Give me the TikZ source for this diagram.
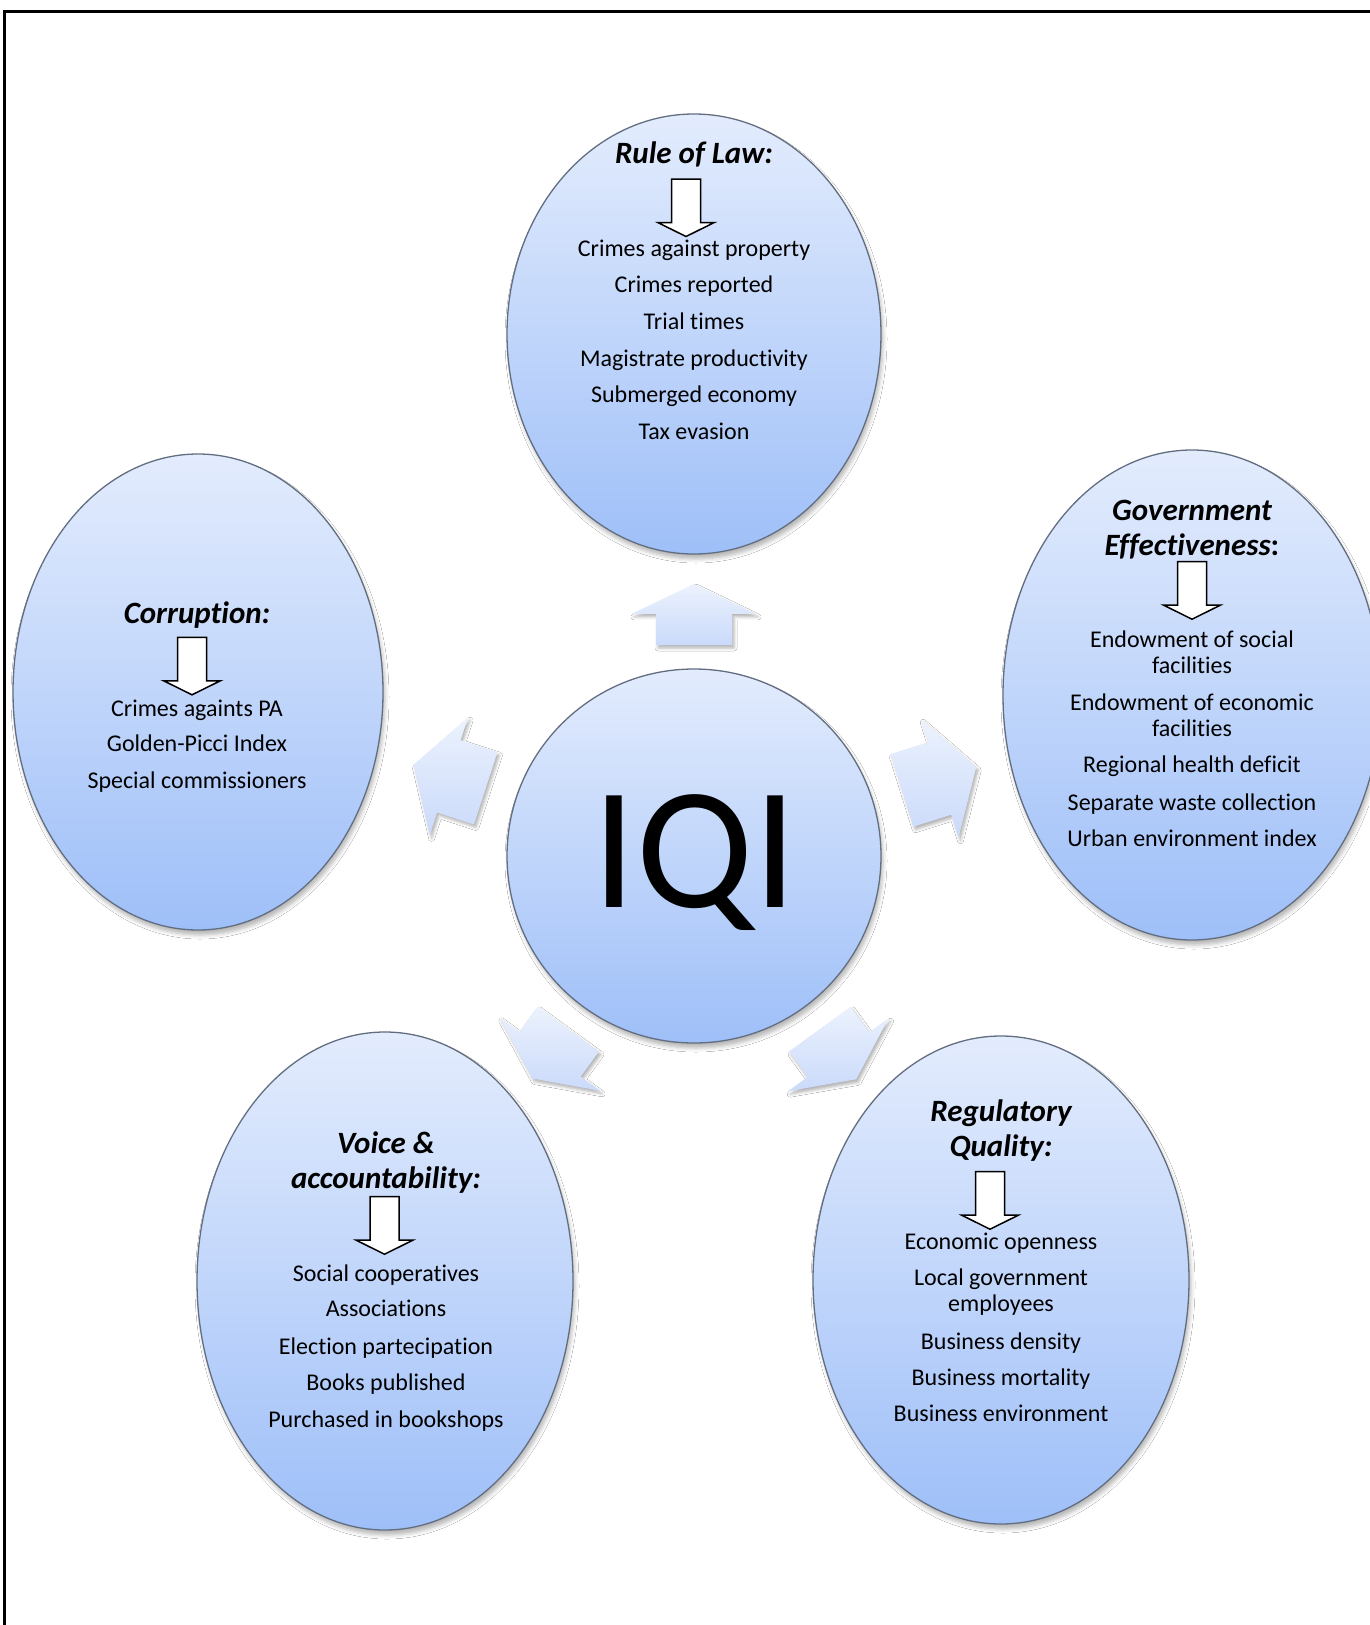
\documentclass[tikz,border=0pt]{standalone}
\usepackage{fontspec}
\setmainfont{Carlito}[Ligatures=NoCommon]
\usetikzlibrary{shapes.geometric,calc,shadows.blur}

\definecolor{bubtop}{RGB}{227,236,253}
\definecolor{bubbot}{RGB}{158,191,248}
\definecolor{bubline}{RGB}{98,110,128}
\definecolor{arrtop}{RGB}{236,242,254}
\definecolor{arrbot}{RGB}{202,218,250}

% outward block arrow around the centre: angle, start radius, length
\newcommand{\outarrow}[3]{%
  \pgfmathsetmacro{\ra}{#2}%
  \pgfmathsetmacro{\rb}{#2+0.51*#3}%
  \pgfmathsetmacro{\rc}{#2+#3}%
  \path[blockarrow]
    ($(ctr)+(#1:\ra)+(#1+90:38)$) -- ($(ctr)+(#1:\rb)+(#1+90:38)$) --
    ($(ctr)+(#1:\rb)+(#1+90:62)$) -- ($(ctr)+(#1:\rc)$) --
    ($(ctr)+(#1:\rb)+(#1-90:62)$) -- ($(ctr)+(#1:\rb)+(#1-90:38)$) --
    ($(ctr)+(#1:\ra)+(#1-90:38)$) -- cycle;}

% small white down arrow: x of axis, y of top
\newcommand{\downmark}[2]{%
  \draw[markarrow] (#1-14.5,#2) -- (#1+14.5,#2) -- (#1+14.5,#2+43.5) --
    (#1+28.3,#2+43.5) -- (#1,#2+57.5) -- (#1-28.3,#2+43.5) --
    (#1-14.5,#2+43.5) -- cycle;}

\begin{document}
\begin{tikzpicture}[x=1pt,y=-1pt,
  bubble/.style={ellipse, draw=bubline, line width=1.3pt,
    top color=bubtop, bottom color=bubbot, inner sep=0pt,
    blur shadow={shadow xshift=2pt, shadow yshift=-5pt,
      shadow blur radius=4pt, shadow opacity=28}},
  blockarrow/.style={top color=arrtop, bottom color=arrbot,
    blur shadow={shadow xshift=2pt, shadow yshift=-3pt,
      shadow blur radius=3pt, shadow opacity=30}},
  markarrow/.style={draw=black, fill=white, line width=1.5pt, line join=miter},
  itm/.style={font=\fontsize{24}{28}\selectfont, anchor=base, inner sep=0pt},
  ttl/.style={font=\fontsize{31}{36}\selectfont\bfseries\itshape, anchor=base, inner sep=0pt}]

\useasboundingbox (0,0) rectangle (1369,1625);
\fill[white] (0,0) rectangle (1369,1625);

% frame, open at right and bottom
\draw[line width=3pt] (4,1640) -- (4,11.5) -- (1380,11.5);

% bubbles
\node[bubble, minimum width=374, minimum height=440] (law) at (694,334) {};
\node[bubble, minimum width=378, minimum height=490] (gov) at (1192,695) {};
\node[bubble, minimum width=370, minimum height=476] (cor) at (198,692) {};
\node[bubble, minimum width=376, minimum height=498] (voi) at (385,1281) {};
\node[bubble, minimum width=376, minimum height=488] (reg) at (1001,1280) {};
\node[bubble, minimum width=374, minimum height=374] (iqi) at (694,856) {};
\coordinate (ctr) at (694,856);

% outward arrows
\outarrow{-90}{211}{61}
\outarrow{-17.5}{218}{78}
\outarrow{54}{214}{62}
\outarrow{126}{214}{61}
\outarrow{198}{219}{76}

% centre label
\node[font=\fontsize{174}{174}\selectfont, anchor=base, inner sep=0pt] (iqit) at (695,907) {IQI};

% Rule of Law
\node[ttl] (lawt) at (694,163.3) {Rule of Law:};
\downmark{686}{179}
\node[itm] (law1) at (694,256.7) {Crimes against property};
\node[itm] (law2) at (694,292.7) {Crimes reported};
\node[itm] (law3) at (694,329.3) {Trial times};
\node[itm] (law4) at (694,366) {Magistrate productivity};
\node[itm] (law5) at (694,402.7) {Submerged economy};
\node[itm] (law6) at (694,439.3) {Tax evasion};

% Government Effectiveness
\node[ttl] (govt1) at (1192,520.7) {Government};
\node[ttl] (govt2) at (1192,555) {Effectiveness\upshape:};
\downmark{1192}{561.7}
\node[itm] (gov1) at (1192,647.3) {Endowment of social};
\node[itm] (gov1b) at (1192,673.3) {facilities};
\node[itm] (gov2) at (1192,710) {Endowment of economic};
\node[itm] (gov2b) at (1192,736) {facilities};
\node[itm] (gov3) at (1192,772.7) {Regional health deficit};
\node[itm] (gov4) at (1192,810) {Separate waste collection};
\node[itm] (gov5) at (1192,846.7) {Urban environment index};

% Corruption
\node[ttl] (cort) at (197,623.3) {Corruption:};
\downmark{192}{637.3}
\node[itm] (cor1) at (197,716.7) {Crimes againts PA};
\node[itm] (cor2) at (197,751.7) {Golden-Picci Index};
\node[itm] (cor3) at (197,788.3) {Special commissioners};

% Voice & accountability
\node[ttl] (voit1) at (386,1153.3) {Voice \&};
\node[ttl] (voit2) at (386,1188.3) {accountability:};
\downmark{384.5}{1196.7}
\node[itm] (voi1) at (386,1281.7) {Social cooperatives};
\node[itm] (voi2) at (386,1316.7) {Associations};
\node[itm] (voi3) at (386,1354) {Election partecipation};
\node[itm] (voi4) at (386,1390.7) {Books published};
\node[itm] (voi5) at (386,1427.3) {Purchased in bookshops};

% Regulatory Quality
\node[ttl] (regt1) at (1001,1121.7) {Regulatory};
\node[ttl] (regt2) at (1001,1156.7) {Quality:};
\downmark{990}{1171.7}
\node[itm] (reg1) at (1001,1249) {Economic openness};
\node[itm] (reg2) at (1001,1285.7) {Local government};
\node[itm] (reg2b) at (1001,1311.7) {employees};
\node[itm] (reg3) at (1001,1349) {Business density};
\node[itm] (reg4) at (1001,1385) {Business mortality};
\node[itm] (reg5) at (1001,1421.7) {Business environment};
\end{tikzpicture}
\end{document}
